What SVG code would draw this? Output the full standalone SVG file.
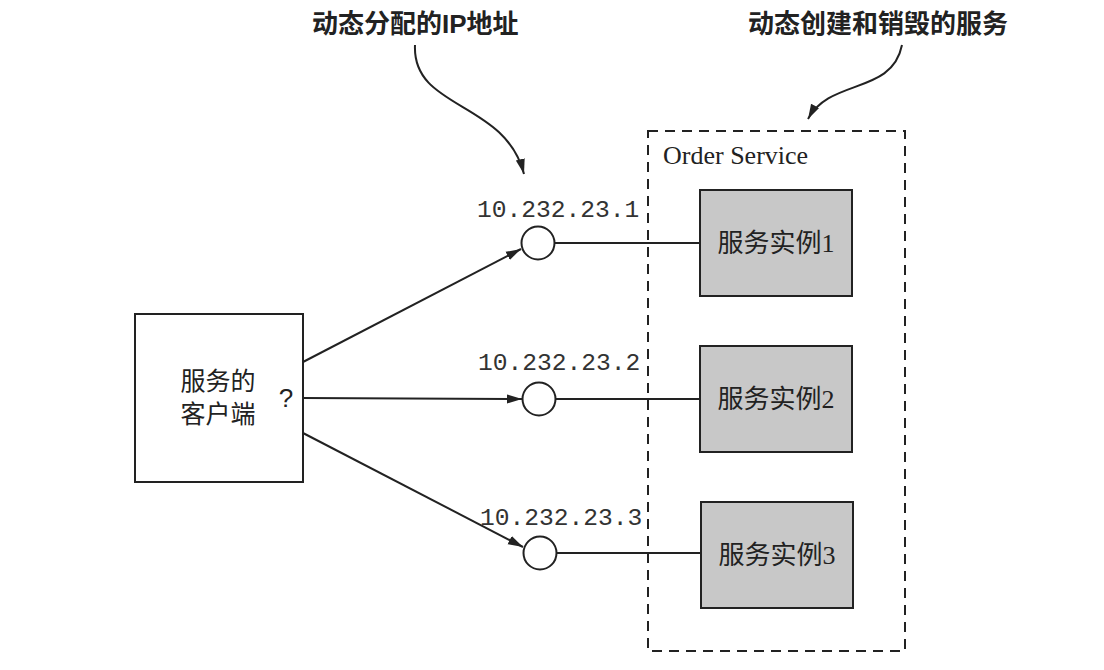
<svg xmlns="http://www.w3.org/2000/svg" width="1104" height="670" viewBox="0 0 1104 670">
<defs>
<style>
.ann{font-family:"Liberation Sans","Noto Sans CJK SC",sans-serif;font-weight:bold;font-size:26px;fill:#222}
.ip{font-family:"Liberation Mono",monospace;font-size:24.6px;fill:#333}
.cn{font-family:"Liberation Serif","Noto Sans CJK SC",serif;font-size:25px;fill:#222}
.inst{fill:#c8c8c8;stroke:#222;stroke-width:2}
.instt{font-family:"Liberation Serif","Noto Sans CJK SC",serif;font-size:26px;fill:#222}
.line{stroke:#222;stroke-width:2;fill:none}
.circ{fill:#fff;stroke:#222;stroke-width:2}
</style>
<marker id="ah2" viewBox="0 0 10 10" refX="10" refY="5" markerWidth="15" markerHeight="13" markerUnits="userSpaceOnUse" orient="auto" preserveAspectRatio="none">
<path d="M0,1.5 L10,5 L0,8.5 Z" fill="#222"/>
</marker>
</defs>
<rect width="1104" height="670" fill="#fff"/>

<g id="annotation-ip">
<text class="ann" x="312" y="33">动态分配的IP地址</text>
</g>
<g id="annotation-service">
<text class="ann" x="748" y="33">动态创建和销毁的服务</text>
</g>

<g id="order-service">
<rect x="648" y="131" width="257" height="520" fill="none" stroke="#222" stroke-width="2" stroke-dasharray="10,7"/>
<text x="663" y="164" font-family="Liberation Serif,serif" font-size="26" fill="#222">Order Service</text>
</g>

<g id="client">
<rect x="135" y="314" width="168" height="168" fill="#fff" stroke="#222" stroke-width="2"/>
<text class="cn" x="218" y="390" text-anchor="middle">服务的</text>
<text class="cn" x="218" y="423" text-anchor="middle">客户端</text>
<text x="286" y="407" font-family="Liberation Sans,sans-serif" font-size="26" fill="#222" text-anchor="middle">?</text>
</g>

<g id="ip1">
<circle class="circ" cx="538" cy="243" r="16.5"/>
<text class="ip" x="477" y="217">10.232.23.1</text>
</g>
<g id="ip2">
<circle class="circ" cx="539" cy="399" r="16.5"/>
<text class="ip" x="478" y="370">10.232.23.2</text>
</g>
<g id="ip3">
<circle class="circ" cx="540" cy="553" r="16.5"/>
<text class="ip" x="480" y="525">10.232.23.3</text>
</g>

<g id="instance1">
<rect class="inst" x="700" y="190" width="152" height="106"/>
<text class="instt" x="776" y="252" text-anchor="middle">服务实例1</text>
</g>
<g id="instance2">
<rect class="inst" x="700" y="346" width="152" height="106"/>
<text class="instt" x="776" y="408" text-anchor="middle">服务实例2</text>
</g>
<g id="instance3">
<rect class="inst" x="701" y="502" width="152" height="106"/>
<text class="instt" x="777" y="564" text-anchor="middle">服务实例3</text>
</g>

<g id="connectors">
<line class="line" x1="303" y1="362" x2="521" y2="249" marker-end="url(#ah2)"/>
<line class="line" x1="303" y1="398" x2="522" y2="399" marker-end="url(#ah2)"/>
<line class="line" x1="303" y1="433" x2="523" y2="547" marker-end="url(#ah2)"/>
<line class="line" x1="554.5" y1="243" x2="700" y2="243"/>
<line class="line" x1="555.5" y1="399" x2="700" y2="399"/>
<line class="line" x1="556.5" y1="553" x2="701" y2="553"/>
<path class="line" d="M415,45 C412,110 505,100 524,174" stroke-width="1.6" marker-end="url(#ah2)"/>
<path class="line" d="M902,45 C892,95 830,78 808,119" stroke-width="1.6" marker-end="url(#ah2)"/>
</g>
</svg>
